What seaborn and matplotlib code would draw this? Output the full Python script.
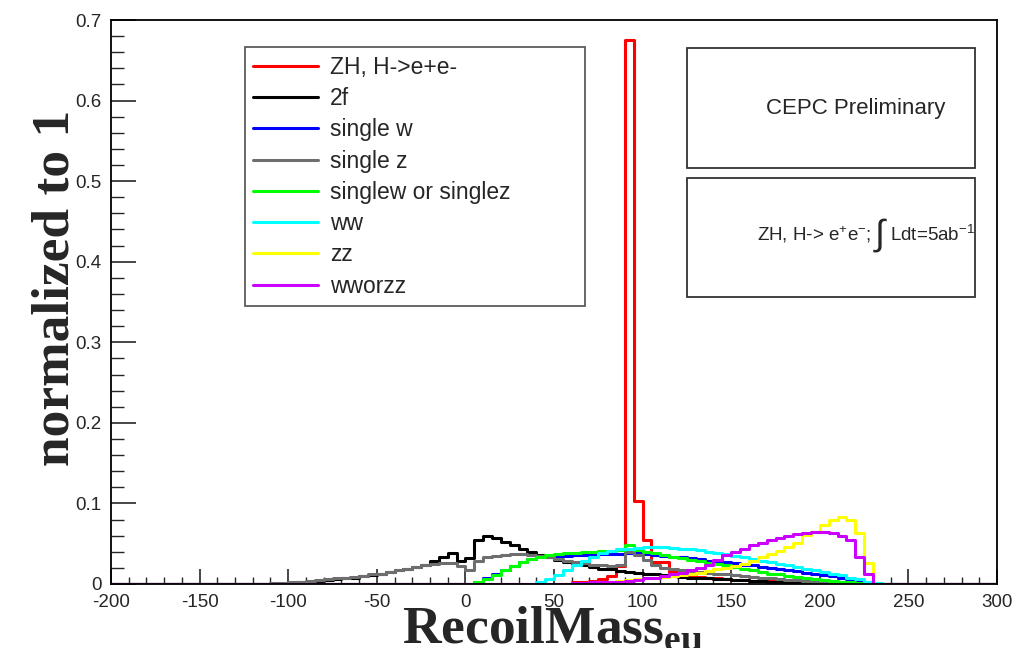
import numpy as np
import pandas as pd
import matplotlib
matplotlib.use("Agg")
import matplotlib.pyplot as plt
from matplotlib.patches import Rectangle
from matplotlib.lines import Line2D
from matplotlib.ticker import MultipleLocator
import seaborn as sns

# bins of 5 GeV from -200 to 300
edges = np.arange(-200, 305, 5)
centers = edges[:-1] + 2.5

# each sample: first bin low edge + bin contents (normalised)
zh_start = 60
zh_vals = [0.002, 0.003, 0.004, 0.006, 0.010, 0.022, 0.675, 0.103, 0.055, 0.027,
           0.027, 0.015, 0.012, 0.010, 0.009, 0.008, 0.007, 0.006, 0.005, 0.005,
           0.004, 0.004, 0.004, 0.003, 0.003, 0.003, 0.002, 0.002, 0.002, 0.001,
           0.001, 0.001, 0.001, 0.001]

f2_start = -100
f2_vals = [0.001, 0.002, 0.003, 0.004, 0.005, 0.006, 0.007, 0.008, 0.010, 0.011,
           0.013, 0.015, 0.017, 0.019, 0.021, 0.024, 0.028, 0.033, 0.038, 0.028,
           0.032, 0.055, 0.059, 0.057, 0.052, 0.048, 0.044, 0.040, 0.036, 0.033,
           0.030, 0.027, 0.025, 0.023, 0.021, 0.019, 0.018, 0.016, 0.015, 0.014,
           0.013, 0.012, 0.011, 0.010, 0.009, 0.008, 0.008, 0.007, 0.006, 0.006,
           0.005, 0.005, 0.004, 0.004, 0.003, 0.003, 0.003, 0.002, 0.002, 0.002,
           0.002, 0.001, 0.001, 0.001, 0.001, 0.001]

sw_start = 5
sw_vals = [0.003, 0.007, 0.012, 0.017, 0.022, 0.027, 0.031, 0.033, 0.034, 0.035,
           0.035, 0.036, 0.036, 0.036, 0.037, 0.037, 0.037, 0.039, 0.038, 0.037,
           0.036, 0.035, 0.034, 0.033, 0.032, 0.031, 0.029, 0.028, 0.027, 0.026,
           0.024, 0.023, 0.021, 0.020, 0.019, 0.017, 0.016, 0.014, 0.013, 0.011,
           0.010, 0.008, 0.006, 0.004, 0.002]

sz_start = -110
sz_vals = [0.001, 0.001, 0.002, 0.003, 0.004, 0.005, 0.006, 0.007, 0.008, 0.009,
           0.010, 0.012, 0.013, 0.015, 0.017, 0.019, 0.021, 0.023, 0.025, 0.026,
           0.026, 0.022, 0.017, 0.029, 0.033, 0.035, 0.036, 0.037, 0.037, 0.036,
           0.035, 0.033, 0.031, 0.029, 0.027, 0.026, 0.024, 0.023, 0.022, 0.024,
           0.040, 0.036, 0.030, 0.024, 0.020, 0.018, 0.017, 0.016, 0.015, 0.014,
           0.013, 0.012, 0.011, 0.010, 0.009, 0.008, 0.007, 0.006, 0.005, 0.005,
           0.004, 0.003, 0.003, 0.002, 0.002, 0.001, 0.001, 0.001]

swsz_start = 5
swsz_vals = [0.002, 0.006, 0.011, 0.017, 0.022, 0.027, 0.031, 0.034, 0.036, 0.037,
             0.038, 0.039, 0.040, 0.040, 0.041, 0.041, 0.042, 0.048, 0.042, 0.040,
             0.038, 0.036, 0.034, 0.032, 0.030, 0.028, 0.026, 0.025, 0.023, 0.021,
             0.019, 0.017, 0.015, 0.013, 0.012, 0.010, 0.009, 0.007, 0.006, 0.005,
             0.004, 0.003, 0.002, 0.001]

ww_start = 40
ww_vals = [0.002, 0.006, 0.011, 0.017, 0.023, 0.029, 0.034, 0.038, 0.041, 0.043,
           0.044, 0.045, 0.046, 0.046, 0.046, 0.045, 0.044, 0.043, 0.042, 0.040,
           0.039, 0.037, 0.035, 0.033, 0.031, 0.029, 0.027, 0.025, 0.023, 0.021,
           0.019, 0.017, 0.015, 0.013, 0.011, 0.008, 0.006, 0.003, 0.001]

zz_start = 60
zz_vals = [0.001, 0.001, 0.002, 0.002, 0.003, 0.004, 0.005, 0.006, 0.007, 0.008,
           0.009, 0.010, 0.011, 0.012, 0.014, 0.016, 0.018, 0.020, 0.022, 0.025,
           0.029, 0.033, 0.037, 0.041, 0.046, 0.051, 0.061, 0.065, 0.073, 0.079,
           0.083, 0.079, 0.063, 0.026]

wz_start = 60
wz_vals = [0.001, 0.001, 0.002, 0.002, 0.003, 0.003, 0.004, 0.005, 0.007, 0.008,
           0.010, 0.012, 0.014, 0.017, 0.020, 0.024, 0.030, 0.036, 0.040, 0.044,
           0.048, 0.051, 0.054, 0.057, 0.060, 0.062, 0.063, 0.064, 0.064, 0.063,
           0.060, 0.055, 0.034, 0.013]

labels = ["ZH, H->e+e-", "2f", "single w", "single z", "singlew or singlez",
          "ww", "zz", "wworzz"]
colors = ["#ff0000", "#000000", "#0000ff", "#6e6e6e", "#00ff00",
          "#00ffff", "#ffff00", "#cc00ff"]
starts = [zh_start, f2_start, sw_start, sz_start, swsz_start, ww_start, zz_start, wz_start]
values = [zh_vals, f2_vals, sw_vals, sz_vals, swsz_vals, ww_vals, zz_vals, wz_vals]


def full_hist(start, vals):
    # pad the listed bins with empty bins over the whole range
    out = np.zeros(len(centers))
    i0 = int((start - edges[0]) // 5)
    out[i0:i0 + len(vals)] = vals
    return out


sns.set_style("white")
plt.rcParams["font.family"] = ["Liberation Sans", "DejaVu Sans"]
plt.rcParams["mathtext.fontset"] = "custom"
plt.rcParams["mathtext.rm"] = "Liberation Sans"
plt.rcParams["mathtext.it"] = "Liberation Sans"
plt.rcParams["axes.unicode_minus"] = False

fig = plt.figure(figsize=(10.23, 6.48), dpi=100)
ax = fig.add_axes([0.1085, 0.0988, 0.8661, 0.8703])

for lab, col, st, vals in zip(labels, colors, starts, values):
    hdf = pd.DataFrame({"mass": centers, "w": full_hist(st, vals)})
    sns.histplot(data=hdf, x="mass", weights="w", binwidth=5, binrange=(-200, 300),
                 element="step", fill=False, color=col, linewidth=2.2, ax=ax)

ax.set_xlim(-200, 300)
ax.set_ylim(0, 0.7)

ax.xaxis.set_major_locator(MultipleLocator(50))
ax.xaxis.set_minor_locator(MultipleLocator(10))
ax.yaxis.set_minor_locator(MultipleLocator(0.02))
ax.set_yticks(np.arange(0, 0.71, 0.1))
ax.set_yticklabels(["0", "0.1", "0.2", "0.3", "0.4", "0.5", "0.6", "0.7"])

ax.tick_params(axis="x", which="major", direction="in", length=11, width=1.2,
               labelsize=13.5, pad=7, bottom=True, top=False)
ax.tick_params(axis="x", which="minor", direction="in", length=5, width=1.0,
               bottom=True, top=False)
ax.tick_params(axis="y", which="major", direction="in", length=18, width=1.2,
               labelsize=13.5, pad=7, left=True, right=False)
ax.tick_params(axis="y", which="minor", direction="in", length=9, width=1.0,
               left=True, right=False)
for sp in ax.spines.values():
    sp.set_color("black")
    sp.set_linewidth(1.3)

ax.set_xlabel(r"RecoilMass$_{\mathregular{e\mu}}$", family="Liberation Serif",
              fontweight="bold", fontsize=38.5)
ax.xaxis.set_label_coords(0.498, -0.036)
ax.set_ylabel("normalized to 1", family="Liberation Serif", fontweight="bold",
              fontsize=38.5)
ax.yaxis.set_label_coords(-0.036, 0.525)

# legend box
handles = [Line2D([], [], color=c, linewidth=2.2) for c in colors]
leg = ax.legend(handles, labels, loc="upper left",
                bbox_to_anchor=(0.151, 0.495, 0.384, 0.457), mode="expand",
                fontsize=16.5, frameon=True, fancybox=False, handlelength=2.8,
                handletextpad=0.55, labelspacing=0.36, borderpad=0.38,
                borderaxespad=0)
leg.get_frame().set_edgecolor("#333333")
leg.get_frame().set_linewidth(1.3)

# info boxes
ax.add_patch(Rectangle((0.650, 0.738), 0.325, 0.212, transform=ax.transAxes,
                       facecolor="white", edgecolor="#333333", linewidth=1.3, zorder=5))
ax.add_patch(Rectangle((0.650, 0.509), 0.325, 0.211, transform=ax.transAxes,
                       facecolor="white", edgecolor="#333333", linewidth=1.3, zorder=5))
ax.text(0.840, 0.844, "CEPC Preliminary", transform=ax.transAxes, fontsize=16,
        ha="center", va="center", zorder=6)
t1 = ax.text(0.729, 0.619, r"ZH, H-> e$^{+}$e$^{-}$; ", transform=ax.transAxes,
             fontsize=13.5, ha="left", va="center", zorder=6)
t2 = ax.annotate(r"$\int$", xy=(1, 0.5), xycoords=t1, fontsize=26,
                 ha="left", va="center", zorder=6)
ax.annotate(r"Ldt=5ab$^{-1}$", xy=(1, 0.5), xycoords=t2, xytext=(1, 0),
            textcoords="offset points", fontsize=13.5, ha="left", va="center", zorder=6)

fig.savefig("out.png", dpi=100)
